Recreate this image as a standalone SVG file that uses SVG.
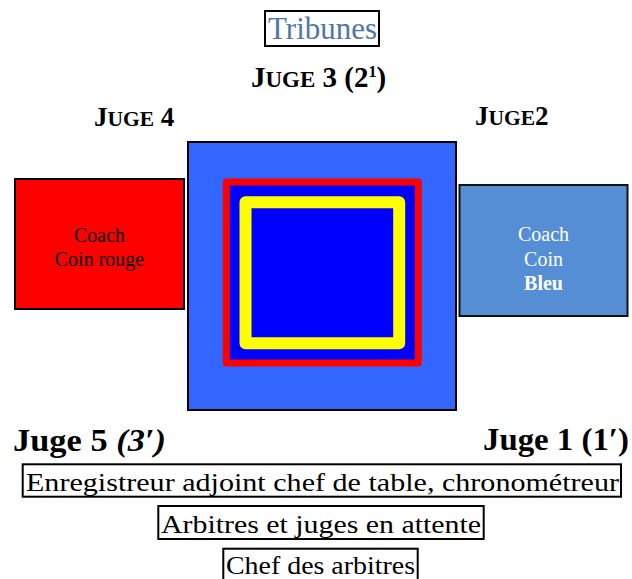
<svg xmlns="http://www.w3.org/2000/svg" width="632" height="579" viewBox="0 0 632 579">
<style>
.bx{fill:#fff;stroke:#000;stroke-width:2}
.lbl{font-family:"Liberation Serif","Times New Roman",serif;font-size:25px;fill:#000}
.hd{font-family:"Liberation Serif","Times New Roman",serif;font-weight:bold;fill:#000}
.coach{font-family:"Liberation Serif","Times New Roman",serif;font-size:20px;text-anchor:middle}
</style>
<rect width="632" height="579" fill="#fff"/>
<g id="tribunes">
<rect x="265" y="11" width="114" height="35" class="bx"/>
<text x="268" y="39" font-family="Liberation Serif, serif" font-size="31" fill="#4F76A8" textLength="109" lengthAdjust="spacingAndGlyphs">Tribunes</text>
</g>
<g id="juge3">
<text class="hd" x="251" y="87" font-size="29">J<tspan font-size="23">UGE</tspan> 3 (2<tspan font-size="16" dy="-10">1</tspan><tspan dy="10">)</tspan></text>
</g>
<g id="juge4">
<text class="hd" x="94" y="126" font-size="27">J<tspan font-size="21.5">UGE</tspan> 4</text>
</g>
<g id="juge2">
<text class="hd" x="475" y="125" font-size="27">J<tspan font-size="21.5">UGE</tspan>2</text>
</g>
<g id="ring">
<rect x="188" y="142" width="268" height="268" fill="#3366FF" stroke="#000" stroke-width="2"/>
<rect x="226.3" y="182" width="192" height="181" fill="#0000FF" stroke="#FF0000" stroke-width="7" stroke-linejoin="round"/>
<rect x="245.5" y="202.3" width="153.7" height="141" fill="none" stroke="#FFFF00" stroke-width="12" stroke-linejoin="round"/>
</g>
<g id="coin-rouge">
<rect x="15" y="179" width="169" height="130" fill="#FF0000" stroke="#000" stroke-width="2"/>
<text class="coach" x="99.5" y="242" fill="#000" font-size="21">Coach</text>
<text class="coach" x="99.5" y="266" fill="#000" font-size="21">Coin rouge</text>
</g>
<g id="coin-bleu">
<rect x="459.5" y="185" width="168" height="131" fill="#558ED5" stroke="#111" stroke-width="2"/>
<text class="coach" x="543.5" y="241" fill="#fff">Coach</text>
<text class="coach" x="543.5" y="266" fill="#fff">Coin</text>
<text class="coach" x="543.5" y="290" fill="#fff" font-weight="bold">Bleu</text>
</g>
<g id="juge5">
<text class="hd" x="13" y="451" font-size="31" textLength="153" lengthAdjust="spacingAndGlyphs">Juge 5 <tspan font-style="italic">(3′)</tspan></text>
</g>
<g id="juge1">
<text class="hd" x="483" y="450" font-size="31" textLength="146" lengthAdjust="spacingAndGlyphs">Juge 1 (1′)</text>
</g>
<g id="enregistreur">
<rect x="22.7" y="464.3" width="598.3" height="32.4" class="bx"/>
<text class="lbl" x="26" y="491" textLength="593" lengthAdjust="spacingAndGlyphs">Enregistreur adjoint chef de table, chronométreur</text>
</g>
<g id="arbitres">
<rect x="158.3" y="506" width="325.4" height="33" class="bx"/>
<text class="lbl" x="161" y="533" textLength="320" lengthAdjust="spacingAndGlyphs">Arbitres et juges en attente</text>
</g>
<g id="chef">
<rect x="223.3" y="548.7" width="194.4" height="34" class="bx"/>
<text class="lbl" x="226" y="574" textLength="189" lengthAdjust="spacingAndGlyphs">Chef des arbitres</text>
</g>
</svg>
